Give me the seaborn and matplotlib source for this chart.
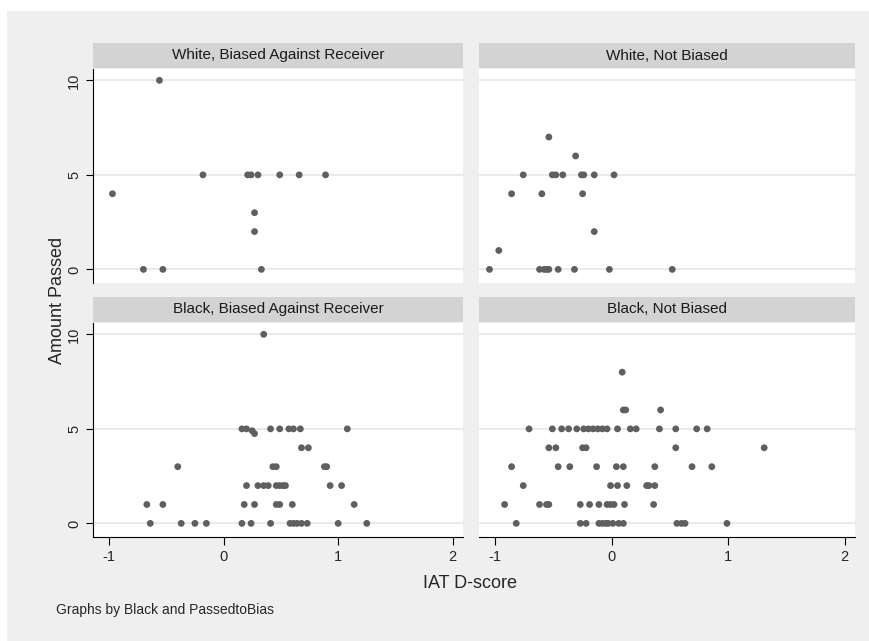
import matplotlib
matplotlib.use("Agg")
import matplotlib.pyplot as plt
import seaborn as sns
import pandas as pd

sns.set_style("white")
plt.rcParams['font.family'] = ['Liberation Sans', 'DejaVu Sans']

titles = ["White, Biased Against Receiver", "White, Not Biased",
          "Black, Biased Against Receiver", "Black, Not Biased"]

wb_x = [-0.56, -0.18, 0.21, 0.24, 0.30, 0.49, 0.66, 0.89, -0.97, 0.27, 0.27, -0.70, -0.53, 0.33]
wb_y = [10, 5, 5, 5, 5, 5, 5, 5, 4, 3, 2, 0, 0, 0]

wn_x = [-0.54, -0.31, -0.76, -0.51, -0.48, -0.42, -0.26, -0.24, -0.15, 0.02,
        -0.86, -0.60, -0.25, -0.15, -0.97, -1.05, -0.62, -0.58, -0.56, -0.54,
        -0.46, -0.32, -0.02, 0.52]
wn_y = [7, 6, 5, 5, 5, 5, 5, 5, 5, 5, 4, 4, 4, 2, 1, 0, 0, 0, 0, 0, 0, 0, 0, 0]

bb_x = [0.35,
        0.16, 0.20, 0.25, 0.27, 0.41, 0.49, 0.57, 0.61, 0.67, 1.08,
        0.68, 0.74,
        -0.40, 0.43, 0.46, 0.88, 0.90,
        0.20, 0.30, 0.35, 0.39, 0.46, 0.49, 0.52, 0.54, 0.93, 1.03,
        -0.67, -0.53, 0.18, 0.27, 0.46, 0.49, 0.60, 1.14,
        -0.64, -0.37, -0.25, -0.15, 0.16, 0.24, 0.41, 0.58, 0.61, 0.64, 0.68, 0.73, 1.00, 1.25]
bb_y = [10,
        5, 5, 4.9, 4.75, 5, 5, 5, 5, 5, 5,
        4, 4,
        3, 3, 3, 3, 3,
        2, 2, 2, 2, 2, 2, 2, 2, 2, 2,
        1, 1, 1, 1, 1, 1, 1, 1,
        0, 0, 0, 0, 0, 0, 0, 0, 0, 0, 0, 0, 0, 0]

bn_x = [0.09,
        0.10, 0.12, 0.42,
        -0.71, -0.51, -0.43, -0.37, -0.30, -0.24, -0.20, -0.16, -0.12, -0.08, -0.04, 0.05, 0.16, 0.21, 0.41, 0.55, 0.73, 0.82,
        -0.54, -0.48, -0.25, -0.22, 0.55, 1.31,
        -0.86, -0.46, -0.36, -0.13, 0.04, 0.10, 0.37, 0.69, 0.86,
        -0.76, -0.01, 0.05, 0.13, 0.30, 0.32, 0.37,
        -0.92, -0.62, -0.56, -0.54, -0.27, -0.19, -0.11, -0.04, -0.01, 0.02, 0.11, 0.36,
        -0.82, -0.27, -0.22, -0.11, -0.08, -0.05, -0.03, 0.01, 0.06, 0.10, 0.56, 0.60, 0.63, 0.99]
bn_y = [8,
        6, 6, 6,
        5, 5, 5, 5, 5, 5, 5, 5, 5, 5, 5, 5, 5, 5, 5, 5, 5, 5,
        4, 4, 4, 4, 4, 4,
        3, 3, 3, 3, 3, 3, 3, 3, 3,
        2, 2, 2, 2, 2, 2, 2,
        1, 1, 1, 1, 1, 1, 1, 1, 1, 1, 1, 1,
        0, 0, 0, 0, 0, 0, 0, 0, 0, 0, 0, 0, 0, 0]

panels = [(wb_x, wb_y), (wn_x, wn_y), (bb_x, bb_y), (bn_x, bn_y)]
x_ticks = [-1, 0, 1, 2]
y_ticks = [0, 5, 10]

W, H = 870, 641
fig = plt.figure(figsize=(8.7, 6.41), dpi=100)
fig.patch.set_facecolor('white')
bg = fig.add_axes([7 / W, 0, 1 - 7 / W, 1 - 11 / H], zorder=-10)
bg.set_facecolor('#efefef')
bg.set_xticks([]); bg.set_yticks([])
for s in bg.spines.values():
    s.set_visible(False)

lefts = [93, 479]
widths = [370, 376]
tops = [69, 323]
height = 214
strip_h = 25

for i, (xs, ys) in enumerate(panels):
    r, c = divmod(i, 2)
    l, w = lefts[c], widths[c]
    t = tops[r]
    ax = fig.add_axes([l / W, 1 - (t + height) / H, w / W, height / H])
    sax = fig.add_axes([l / W, 1 - (t - 1) / H, w / W, strip_h / H])
    sax.set_facecolor('#d3d3d3')
    sax.set_xticks([]); sax.set_yticks([])
    for s in sax.spines.values():
        s.set_visible(False)
    sax.text(0.5, 0.5, titles[i], ha='center', va='center', fontsize=11, color='#1a1a1a')

    df = pd.DataFrame({'x': xs, 'y': ys})
    sns.scatterplot(data=df, x='x', y='y', ax=ax, color='#5f5f5f', s=24,
                    edgecolor='none', zorder=3)
    ax.set_facecolor('white')
    ax.set_xlim(-1.14, 2.09)
    ax.set_ylim(-0.72, 10.6)
    for yv in y_ticks:
        ax.axhline(yv, color='#e6e6e6', lw=1.2, zorder=1)
    for s in ax.spines.values():
        s.set_visible(False)
    ax.set_xlabel(''); ax.set_ylabel('')
    if c == 0:
        ax.spines['left'].set_visible(True)
        ax.spines['left'].set_color('black')
        ax.set_yticks(y_ticks)
        ax.set_yticklabels([str(v) for v in y_ticks], rotation=90, va='center', fontsize=10.5)
        ax.tick_params(axis='y', left=True, length=5, color='black')
    else:
        ax.set_yticks([])
    if r == 1:
        ax.spines['bottom'].set_visible(True)
        ax.spines['bottom'].set_color('black')
        ax.set_xticks(x_ticks)
        ax.set_xticklabels([str(v) for v in x_ticks], fontsize=10.5)
        ax.tick_params(axis='x', bottom=True, length=6, color='black')
    else:
        ax.set_xticks([])

fig.text(58 / W, 1 - 300 / H, 'Amount Passed', rotation=90, ha='center', va='center', fontsize=13)
fig.text(470 / W, 1 - 584 / H, 'IAT D-score', ha='center', va='center', fontsize=13)
fig.text(56 / W, 1 - 610 / H, 'Graphs by Black and PassedtoBias', ha='left', va='center', fontsize=10)

fig.savefig('out.png', dpi=100, facecolor=fig.get_facecolor())
